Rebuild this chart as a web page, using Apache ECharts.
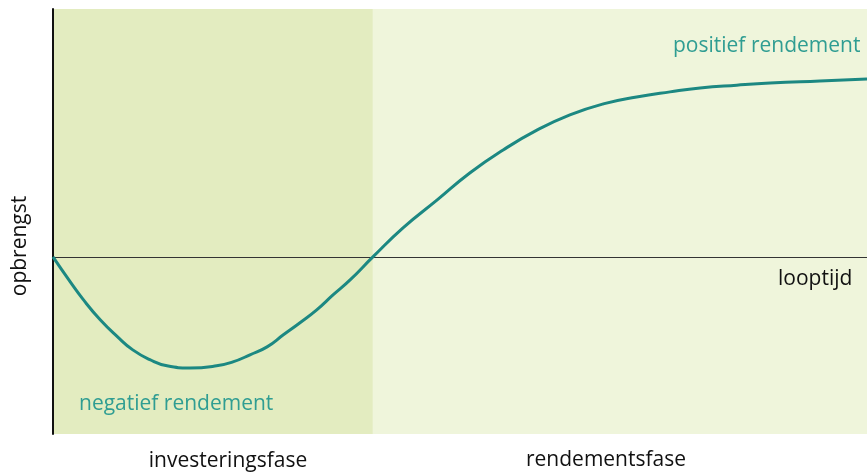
<!DOCTYPE html>
<html>
<head>
<meta charset="utf-8">
<script src="https://cdn.jsdelivr.net/npm/echarts@6/dist/echarts.min.js"></script>
<style>
  html, body { margin: 0; padding: 0; background: #fff; }
  #chart { width: 867px; height: 473px; }
</style>
</head>
<body>
<div id="chart"></div>
<script>
// curve (x = looptijd 0..100, y = opbrengst)
var looptijd = [0, 2.1, 3.7, 5.8, 7.9, 9.8, 11.9, 14.0, 16.8, 20.1, 22.1, 24.2, 26.3, 28.3, 30.3, 32.4, 34.4, 36.5, 39.3,
  43.0, 47.2, 51.2, 55.3, 59.5, 63.5, 67.6, 71.7, 75.8, 79.5, 84.0, 88.1, 94.2, 100];
var opbrengst = [0, -14, -24, -35.5, -45, -52.5, -58, -61.5, -62.7, -61.5, -59.3, -55.3, -50.8, -44, -37.3, -29.9, -21.5, -13, 0,
  16.4, 32.2, 47.4, 60.4, 71.7, 80.2, 86.4, 90.3, 93.2, 95.4, 97, 98.2, 99.4, 100.5];
// phases
var faseGrens = [0, 39.3, 100];
var faseNamen = ["investeringsfase", "rendementsfase"];

var font = "'Open Sans', Lato, sans-serif";
var teal = "#1c8882";
var labelTeal = "#2f9d92";

var chart = echarts.init(document.getElementById("chart"));

var points = looptijd.map(function (x, i) { return [x, opbrengst[i]]; });

function label(text, x, y, color, align) {
  return {
    type: "text",
    z: 100,
    x: x,
    y: y,
    style: { text: text, font: "21px " + font, fill: color, align: align || "left", verticalAlign: "middle" }
  };
}

var option = {
  animation: false,
  grid: { left: 53, right: 0, top: 9, bottom: 39 },
  xAxis: {
    type: "value",
    min: 0,
    max: 100,
    z: 10,
    axisLine: { show: true, onZero: true, lineStyle: { color: "#333", width: 1 } },
    axisTick: { show: false },
    axisLabel: { show: false },
    splitLine: { show: false }
  },
  yAxis: {
    type: "value",
    min: -100,
    max: 140,
    z: 10,
    axisLine: { show: true, onZero: false, lineStyle: { color: "#111", width: 2 } },
    axisTick: { show: false },
    axisLabel: { show: false },
    splitLine: { show: false }
  },
  series: [
    {
      type: "line",
      data: points,
      smooth: 0.5,
      showSymbol: false,
      z: 12,
      lineStyle: { color: teal, width: 3 },
      markArea: {
        silent: true,
        z: 1,
        data: [
          [{ xAxis: faseGrens[0], itemStyle: { color: "#e3ecc0" } }, { xAxis: faseGrens[1] }],
          [{ xAxis: faseGrens[1], itemStyle: { color: "#eff5db" } }, { xAxis: faseGrens[2] }]
        ]
      }
    }
  ],
  graphic: [
    label("positief rendement", 673, 46, labelTeal),
    label("negatief rendement", 79, 404, labelTeal),
    label("looptijd", 778, 279, "#111"),
    label(faseNamen[0], 228, 461, "#111", "center"),
    label(faseNamen[1], 606, 460, "#111", "center"),
    {
      type: "text",
      z: 100,
      x: 20,
      y: 246,
      rotation: Math.PI / 2,
      style: { text: "opbrengst", font: "21px " + font, fill: "#111", align: "center", verticalAlign: "middle" }
    }
  ]
};

chart.setOption(option);
</script>
</body>
</html>
